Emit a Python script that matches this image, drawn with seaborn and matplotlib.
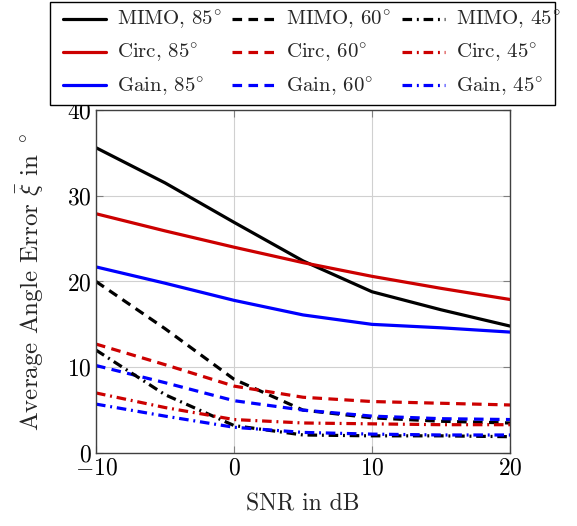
import numpy as np
import pandas as pd
import matplotlib
matplotlib.use("Agg")
import matplotlib.pyplot as plt
import seaborn as sns
from matplotlib.lines import Line2D
from matplotlib.patches import Rectangle
from matplotlib.ticker import FuncFormatter

snr = [-10, -5, 0, 5, 10, 15, 20]
mimo_85 = [35.6, 31.5, 26.9, 22.4, 18.8, 16.7, 14.8]
circ_85 = [27.9, 25.9, 24.0, 22.2, 20.6, 19.2, 17.9]
gain_85 = [21.7, 19.8, 17.8, 16.1, 15.0, 14.6, 14.1]
mimo_60 = [20.0, 14.5, 8.6, 5.0, 4.1, 3.7, 3.5]
circ_60 = [12.7, 10.3, 7.8, 6.5, 6.0, 5.8, 5.6]
gain_60 = [10.2, 8.2, 6.1, 5.0, 4.3, 4.0, 3.9]
mimo_45 = [12.0, 6.8, 3.2, 2.1, 2.0, 2.0, 1.9]
circ_45 = [7.0, 5.3, 3.9, 3.5, 3.4, 3.3, 3.3]
gain_45 = [5.7, 4.3, 3.0, 2.4, 2.2, 2.1, 2.1]

methods = ["MIMO", "Circ", "Gain"]
angles = ["85", "60", "45"]
series = {
    ("MIMO", "85"): mimo_85, ("Circ", "85"): circ_85, ("Gain", "85"): gain_85,
    ("MIMO", "60"): mimo_60, ("Circ", "60"): circ_60, ("Gain", "60"): gain_60,
    ("MIMO", "45"): mimo_45, ("Circ", "45"): circ_45, ("Gain", "45"): gain_45,
}
colors = {"MIMO": "#000000", "Circ": "#cc0000", "Gain": "#0000ff"}
dashes = {"85": (None, None), "60": (3, 2), "45": (3, 1.5, 0.6, 1.5)}

sns.set_style("white")
plt.rcParams["font.family"] = ["cmr10", "DejaVu Serif"]
plt.rcParams["mathtext.fontset"] = "cm"
plt.rcParams["axes.formatter.use_mathtext"] = True

fig = plt.figure(figsize=(5.77, 5.26), dpi=100)
ax = fig.add_axes([0.1664, 0.1388, 0.884 - 0.1664, 0.7909 - 0.1388])

lw = 2.3
handles = []
labels = []
for ang in angles:
    for m in methods:
        df = pd.DataFrame({"snr": snr, "err": series[(m, ang)]})
        sns.lineplot(data=df, x="snr", y="err", ax=ax, color=colors[m], lw=lw)
        line = ax.lines[-1]
        if ang != "85":
            line.set_dashes(dashes[ang])
        h = Line2D([0], [0], color=colors[m], lw=lw)
        if ang != "85":
            h.set_dashes(dashes[ang])
        handles.append(h)
        labels.append(f"{m}, {ang}$^{{\\circ}}$")

ax.set_xlim(-10, 20)
ax.set_ylim(0, 40)
ax.set_xticks([-10, 0, 10, 20])
ax.set_yticks([0, 10, 20, 30, 40])
fmt = FuncFormatter(lambda v, p: f"${int(v)}$")
ax.xaxis.set_major_formatter(fmt)
ax.yaxis.set_major_formatter(fmt)
ax.tick_params(direction="in", length=5, width=0.8, colors="#808080",
               labelcolor="black", labelsize=17, top=True, right=True,
               bottom=True, left=True, pad=3)
ax.grid(True, color="#d0d0d0", lw=0.8)
for s in ax.spines.values():
    s.set_color("#404040")
    s.set_linewidth(1.0)
ax.set_xlabel("SNR in dB", fontsize=17, labelpad=10)
ax.set_ylabel(r"Average Angle Error $\bar{\xi}$ in $^\circ$",
              fontsize=18, labelpad=16)

# legend frame box (drawn separately for exact extent)
frame = Rectangle((0.087, 0.800), 0.875, 0.196, transform=fig.transFigure,
                  facecolor="white", edgecolor="black", lw=1.0, zorder=9)
fig.patches.append(frame)

leg = fig.legend(handles, labels, ncol=3, loc="upper center",
                 bbox_to_anchor=(0.540, 0.998),
                 fontsize=15, frameon=False,
                 handlelength=2.1, columnspacing=0.5, handletextpad=0.5,
                 borderaxespad=0.0, labelspacing=0.48, borderpad=0.4)
leg.set_zorder(10)

fig.savefig("out.png", dpi=100)
